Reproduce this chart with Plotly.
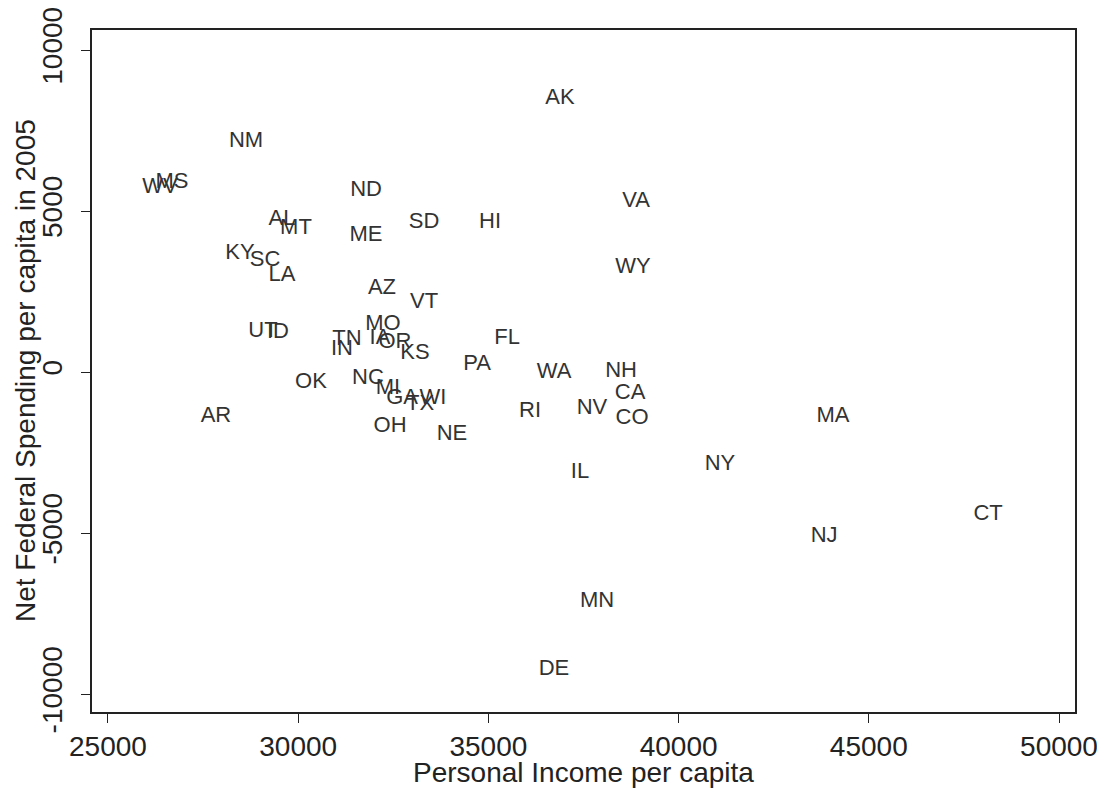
import plotly.graph_objects as go

states = ["AK", "NM", "WV", "MS", "ND", "VA", "SD", "HI", "AL", "MT", "ME", "KY", "SC", "LA",
          "WY", "AZ", "VT", "UT", "ID", "MO", "TN", "IA", "OR", "KS", "IN", "FL", "PA", "OK",
          "NC", "MI", "GA", "TX", "WI", "OH", "NE", "RI", "WA", "NH", "CA", "NV", "CO", "AR",
          "MA", "NY", "IL", "CT", "NJ", "MN", "DE"]
income = [36882, 28628, 26367, 26683, 31783, 38881, 33308, 35043, 29574, 29942, 31783, 28470,
          29128, 29574, 38803, 32203, 33308, 29075, 29469, 32230, 31283, 32151, 32545, 33071,
          31152, 35490, 34701, 30337, 31835, 32361, 32730, 33203, 33545, 32414, 34044, 36094,
          36725, 38487, 38724, 37724, 38776, 27839, 44060, 41089, 37409, 48135, 43824, 37856,
          36725]
spending = [8509, 7143, 5745, 5870, 5652, 5280, 4628, 4628, 4721, 4442, 4224, 3665, 3448, 2982,
            3230, 2578, 2143, 1273, 1242, 1460, 994, 1025, 901, 590, 714, 1025, 248, -311, -217,
            -497, -808, -994, -808, -1677, -1926, -1242, 0, 31, -683, -1118, -1429, -1367, -1367,
            -2858, -3106, -4410, -5094, -7113, -9225]

x_ticks = [25000, 30000, 35000, 40000, 45000, 50000]
y_ticks = [-10000, -5000, 0, 5000, 10000]
x_title = "Personal Income per capita"
y_title = "Net Federal Spending per capita in 2005"

FONT = "Liberation Sans, Arial, sans-serif"

fig = go.Figure()
fig.add_trace(go.Scatter(
    x=income, y=spending, mode="text", text=states,
    textposition="middle center",
    textfont=dict(family=FONT, size=22, color="#333333"),
    showlegend=False, hoverinfo="skip"))

axis_font = dict(family=FONT, size=28, color="#222222")
title_font = dict(family=FONT, size=28, color="#222222")
fig.update_layout(
    width=1105, height=790,
    margin=dict(l=84, r=38, t=22, b=86),
    paper_bgcolor="white", plot_bgcolor="white",
    xaxis=dict(range=[24580, 50420], tickvals=x_ticks, ticktext=[str(v) for v in x_ticks],
               showgrid=False, zeroline=False, showline=True, mirror=True,
               linecolor="#222222", linewidth=1.5, ticks="outside", ticklen=9,
               tickcolor="#222222", tickfont=axis_font, automargin=False,
               ticklabeloverflow="allow"),
    yaxis=dict(range=[-10559, 10621], tickvals=y_ticks, ticktext=[str(v) for v in y_ticks],
               showgrid=False, zeroline=False, showline=True, mirror=True,
               linecolor="#222222", linewidth=1.5, ticks="outside", ticklen=9,
               tickcolor="#222222", tickfont=axis_font, tickangle=-90, automargin=False,
               ticklabelstandoff=8, ticklabeloverflow="allow"),
    annotations=[
        dict(text=x_title, xref="paper", yref="paper", x=0.5, y=0, yshift=-60,
             xanchor="center", yanchor="middle", showarrow=False, font=title_font),
        dict(text=y_title, xref="paper", yref="paper", x=0, y=0.5, xshift=-67,
             xanchor="center", yanchor="middle", textangle=-90, showarrow=False, font=title_font),
    ],
)

fig.write_html("out.html")
